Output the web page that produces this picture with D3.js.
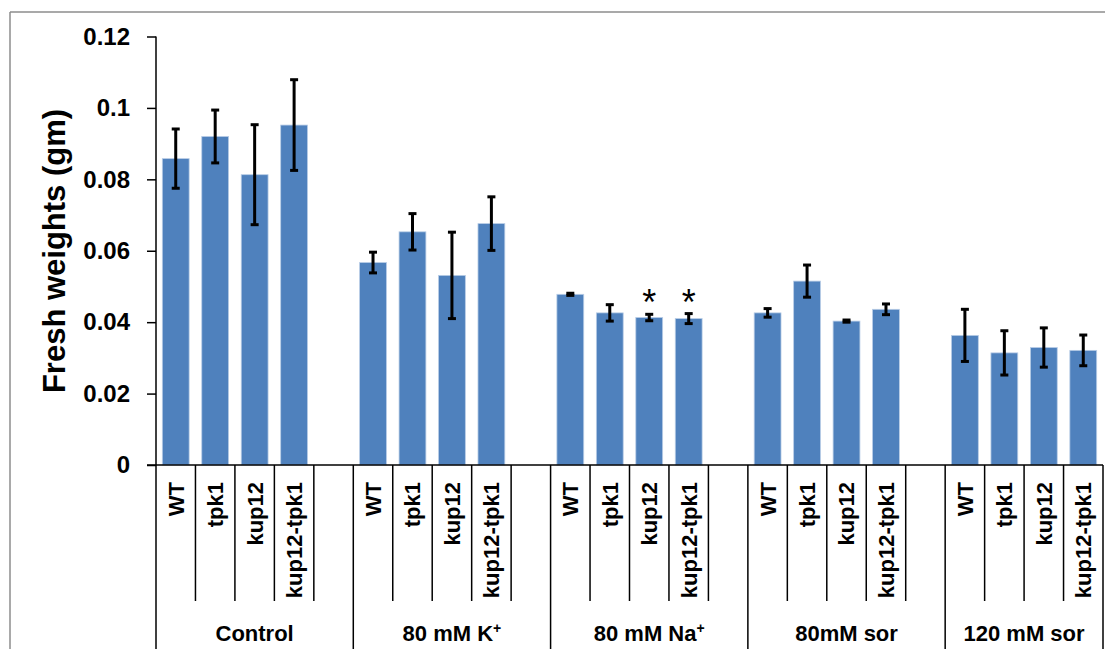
<!DOCTYPE html>
<html>
<head>
<meta charset="utf-8">
<script src="https://cdn.jsdelivr.net/npm/d3@7"></script>
<style>
    html, body { margin: 0; padding: 0; background: #fff; }
    svg { display: block; font-family: "Liberation Sans", Arial, sans-serif; }
</style>
</head>
<body>
<svg id="chart" width="1105" height="649"></svg>
<script>
"use strict";

// Data
const groups = ["Control", "80 mM K", "80 mM Na", "80mM sor", "120 mM sor"];
const groupSup = ["", "+", "+", "", ""];
const genotypes = ["WT", "tpk1", "kup12", "kup12-tpk1"];

const controlMeans = [0.0858, 0.0920, 0.0813, 0.0952];
const controlErr   = [0.0083, 0.0074, 0.0140, 0.0127];
const kMeans       = [0.0567, 0.0653, 0.0531, 0.0676];
const kErr         = [0.0029, 0.0051, 0.0121, 0.0075];
const naMeans      = [0.0478, 0.0426, 0.0413, 0.0410];
const naErr        = [0.0003, 0.0023, 0.0009, 0.0014];
const sor80Means   = [0.0426, 0.0515, 0.0403, 0.0436];
const sor80Err     = [0.0012, 0.0045, 0.0003, 0.0015];
const sor120Means  = [0.0363, 0.0314, 0.0329, 0.0321];
const sor120Err    = [0.0073, 0.0062, 0.0055, 0.0043];

const yTicks = [0, 0.02, 0.04, 0.06, 0.08, 0.1, 0.12];
// significance marks: [group index, genotype index]
const starred = [[2, 2], [2, 3]];

const allMeans = [controlMeans, kMeans, naMeans, sor80Means, sor120Means];
const allErr = [controlErr, kErr, naErr, sor80Err, sor120Err];

// Build slots (4 bars per group + an empty slot between groups)
const slots = [];
groups.forEach((g, gi) => {
    genotypes.forEach((gt, i) => {
        slots.push({ key: gi + "-" + i, group: gi, label: gt, value: allMeans[gi][i], err: allErr[gi][i] });
    });
    if (gi < groups.length - 1) {
        slots.push({ key: gi + "-gap", group: gi, label: "", value: null, err: null });
    }
});

const svg = d3.select("#chart");
const plotLeft = 156, plotRight = 1103, plotTop = 36.5, plotBottom = 465;

const x = d3.scaleBand()
    .domain(slots.map(d => d.key))
    .range([plotLeft, plotRight])
    .paddingInner(0.32)
    .paddingOuter(0.16);

const y = d3.scaleLinear()
    .domain([0, 0.12])
    .range([plotBottom, plotTop]);

const halfGap = (x.step() - x.bandwidth()) / 2;
const slotLeft = d => x(d.key) - halfGap;
const slotRight = d => x(d.key) + x.bandwidth() + halfGap;

// outer frame (gray)
svg.append("line").attr("x1", 10).attr("x2", 1105).attr("y1", 12).attr("y2", 12)
    .attr("stroke", "#8c8c8c").attr("stroke-width", 1.5);
svg.append("line").attr("x1", 10).attr("x2", 10).attr("y1", 12).attr("y2", 649)
    .attr("stroke", "#8c8c8c").attr("stroke-width", 1.5);

// bars
const bars = slots.filter(d => d.value !== null);
svg.append("g")
    .selectAll("rect")
    .data(bars)
    .enter().append("rect")
    .attr("x", d => x(d.key))
    .attr("y", d => y(d.value))
    .attr("width", x.bandwidth())
    .attr("height", d => y(0) - y(d.value))
    .attr("fill", "#4f81bd")
    .attr("stroke", "#b9cde6")
    .attr("stroke-width", 0.8);

// error bars
const eb = svg.append("g").attr("stroke", "#000").attr("stroke-width", 3);
bars.forEach(d => {
    const cx = x(d.key) + x.bandwidth() / 2;
    const y1 = y(d.value + d.err), y2 = y(d.value - d.err);
    eb.append("line").attr("x1", cx).attr("x2", cx).attr("y1", y1).attr("y2", y2);
    eb.append("line").attr("x1", cx - 4).attr("x2", cx + 4).attr("y1", y1).attr("y2", y1);
    eb.append("line").attr("x1", cx - 4).attr("x2", cx + 4).attr("y1", y2).attr("y2", y2);
});

// asterisks
starred.forEach(([gi, i]) => {
    const d = bars.find(b => b.key === gi + "-" + i);
    svg.append("text")
        .attr("x", x(d.key) + x.bandwidth() / 2)
        .attr("y", y(d.value + d.err) + 1)
        .attr("text-anchor", "middle")
        .attr("font-size", 36)
        .attr("fill", "#000")
        .text("*");
});

// y axis
const yAxis = d3.axisLeft(y)
    .tickValues(yTicks)
    .tickSize(9)
    .tickPadding(17)
    .tickFormat(d => d === 0 ? "0" : String(+d.toFixed(2)));

const yg = svg.append("g")
    .attr("transform", "translate(" + plotLeft + ",0)")
    .call(yAxis);
yg.select(".domain").remove();
yg.selectAll(".tick line").attr("stroke", "#000").attr("stroke-width", 1.5);
yg.selectAll(".tick text")
    .attr("font-size", 24)
    .attr("font-weight", "bold")
    .attr("font-family", "'Liberation Sans', Arial, sans-serif")
    .attr("fill", "#000");

// vertical axis line (runs down to the bottom as the first group divider)
svg.append("line").attr("x1", plotLeft).attr("x2", plotLeft).attr("y1", plotTop).attr("y2", 649)
    .attr("stroke", "#000").attr("stroke-width", 1.5);

// horizontal axis line
svg.append("line").attr("x1", plotLeft - 9).attr("x2", plotRight).attr("y1", plotBottom).attr("y2", plotBottom)
    .attr("stroke", "#000").attr("stroke-width", 1.5);

// category dividers
const div = svg.append("g").attr("stroke", "#000").attr("stroke-width", 1.5);
slots.forEach((d, k) => {
    const next = slots[k + 1];
    const xr = slotRight(d);
    const isGroupEnd = !next || next.group !== d.group;
    div.append("line")
        .attr("x1", xr).attr("x2", xr)
        .attr("y1", plotBottom).attr("y2", isGroupEnd ? 649 : 601);
});

// genotype labels (rotated)
svg.append("g")
    .selectAll("text")
    .data(bars)
    .enter().append("text")
    .attr("transform", d => "translate(" + (x(d.key) + x.bandwidth() / 2) + ",482) rotate(-90)")
    .attr("text-anchor", "end")
    .attr("dy", "0.36em")
    .attr("font-size", 22)
    .attr("font-weight", "bold")
    .attr("fill", "#000")
    .text(d => d.label);

// group labels
groups.forEach((g, gi) => {
    const gs = slots.filter(d => d.group === gi);
    const x0 = slotLeft(gs[0]);
    const x1 = slotRight(gs[gs.length - 1]);
    const t = svg.append("text")
        .attr("x", (x0 + x1) / 2)
        .attr("y", 641)
        .attr("text-anchor", "middle")
        .attr("font-size", 22)
        .attr("font-weight", "bold")
        .attr("fill", "#000")
        .text(g);
    if (groupSup[gi]) {
        t.append("tspan")
            .attr("font-size", 14)
            .attr("dy", -8)
            .text(groupSup[gi]);
    }
});

// y axis title
svg.append("text")
    .attr("transform", "translate(65,251) rotate(-90)")
    .attr("text-anchor", "middle")
    .attr("font-size", 31)
    .attr("font-weight", "bold")
    .attr("fill", "#000")
    .text("Fresh weights (gm)");
</script>
</body>
</html>
